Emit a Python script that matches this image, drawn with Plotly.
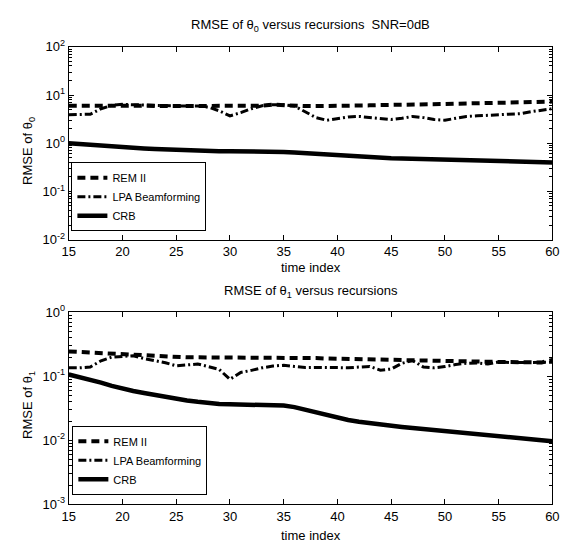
import plotly.graph_objects as go

# recursion index shared by both panels
time_index = list(range(15, 61))

# RMSE of theta_0 (top panel)
rem_theta0 = [6.0, 6.0, 6.0, 6.0, 6.1, 6.2, 6.1, 6.0, 5.9, 5.9, 5.9, 5.8, 5.8, 5.8, 5.8, 5.8,
              5.8, 5.9, 6.0, 6.3, 6.1, 5.9, 5.9, 5.9, 5.9, 6.0, 6.0, 6.1, 6.1, 6.2, 6.2, 6.3,
              6.3, 6.4, 6.5, 6.5, 6.6, 6.7, 6.8, 6.8, 6.9, 7.0, 7.1, 7.2, 7.2, 7.3]
lpa_theta0 = [3.9, 3.9, 4.0, 5.2, 6.1, 6.4, 6.4, 6.2, 6.1, 6.0, 5.8, 5.9, 5.9, 5.6, 4.7, 3.7,
              4.3, 5.2, 6.0, 6.3, 6.3, 5.9, 4.5, 3.4, 3.0, 3.2, 3.5, 3.6, 3.4, 3.2, 3.1, 3.3,
              3.6, 3.4, 3.1, 3.0, 3.3, 3.6, 3.7, 3.8, 3.9, 4.0, 4.1, 4.5, 4.8, 5.2]
crb_theta0 = [1.00, 0.96, 0.92, 0.88, 0.85, 0.82, 0.80, 0.78, 0.76, 0.74, 0.72, 0.71, 0.70,
              0.69, 0.68, 0.68, 0.68, 0.67, 0.67, 0.67, 0.66, 0.64, 0.62, 0.60, 0.58, 0.56,
              0.54, 0.52, 0.51, 0.50, 0.49, 0.485, 0.48, 0.47, 0.465, 0.46, 0.455, 0.45,
              0.44, 0.435, 0.43, 0.425, 0.42, 0.41, 0.405, 0.40]

# RMSE of theta_1 (bottom panel)
rem_theta1 = [0.245, 0.24, 0.235, 0.23, 0.225, 0.222, 0.215, 0.21, 0.205, 0.20, 0.20, 0.198,
              0.198, 0.198, 0.198, 0.198, 0.198, 0.198, 0.198, 0.198, 0.198, 0.198, 0.195,
              0.193, 0.19, 0.189, 0.187, 0.185, 0.183, 0.181, 0.178, 0.177, 0.176, 0.175,
              0.174, 0.174, 0.172, 0.171, 0.170, 0.169, 0.168, 0.167, 0.166, 0.165, 0.165, 0.18]
lpa_theta1 = [0.136, 0.136, 0.140, 0.175, 0.20, 0.205, 0.21, 0.19, 0.175, 0.163, 0.146, 0.152,
              0.156, 0.142, 0.128, 0.09, 0.115, 0.124, 0.136, 0.145, 0.149, 0.143, 0.137,
              0.138, 0.139, 0.137, 0.136, 0.138, 0.143, 0.125, 0.13, 0.16, 0.176, 0.14,
              0.136, 0.142, 0.153, 0.160, 0.162, 0.156, 0.168, 0.164, 0.165, 0.165, 0.165, 0.166]
crb_theta1 = [0.107, 0.098, 0.089, 0.080, 0.071, 0.064, 0.059, 0.055, 0.051, 0.047, 0.0445,
              0.042, 0.040, 0.038, 0.037, 0.0365, 0.0362, 0.036, 0.0358, 0.0355, 0.035, 0.033,
              0.030, 0.027, 0.0245, 0.022, 0.0208, 0.0195, 0.0185, 0.0175, 0.0168, 0.0162,
              0.0156, 0.015, 0.0143, 0.0137, 0.0132, 0.0128, 0.0124, 0.0119, 0.0115, 0.0111,
              0.0107, 0.0103, 0.0100, 0.0097]

series_names = ["REM II", "LPA Beamforming", "CRB"]
x_ticks = [15, 20, 25, 30, 35, 40, 45, 50, 55, 60]
top_exponents = [-2, -1, 0, 1, 2]
bottom_exponents = [-3, -2, -1, 0]

FONT = "Liberation Sans, Arial, Helvetica, sans-serif"
W, H = 574, 553

styles = [
    dict(color="black", width=4, dash="8px,5px"),
    dict(color="black", width=3, dash="8px,3px,2px,3px"),
    dict(color="black", width=4.5),
]

fig = go.Figure()
for name, ys, st in zip(series_names, [rem_theta0, lpa_theta0, crb_theta0], styles):
    fig.add_trace(go.Scatter(x=time_index, y=ys, mode="lines", name=name, line=st,
                             xaxis="x", yaxis="y", legend="legend"))
for name, ys, st in zip(series_names, [rem_theta1, lpa_theta1, crb_theta1], styles):
    fig.add_trace(go.Scatter(x=time_index, y=ys, mode="lines", name=name, line=st,
                             xaxis="x2", yaxis="y2", legend="legend2"))


def px_x(p):
    return p / W


def px_y(p):
    return 1 - p / H


def log_ticks(exps):
    return [10.0 ** e for e in exps], ["10<sup>%d</sup>" % e for e in exps]


def log_minor(exps):
    return [m * 10.0 ** e for e in exps[:-1] for m in range(2, 10)]


axis_common = dict(showline=True, linecolor="black", linewidth=1, mirror="ticks",
                   ticks="inside", ticklen=5, tickcolor="black", showgrid=False,
                   zeroline=False, tickfont=dict(family=FONT, size=13, color="black"))

tv0, tt0 = log_ticks(top_exponents)
tv1, tt1 = log_ticks(bottom_exponents)

x_dom = [px_x(63.3), px_x(559)]
legend_style = dict(xanchor="left", yanchor="top", bgcolor="white", bordercolor="black",
                    borderwidth=1, font=dict(family=FONT, size=11, color="black"),
                    tracegroupgap=0, itemwidth=30)
fig.update_layout(
    width=W, height=H, margin=dict(l=0, r=0, t=0, b=0),
    paper_bgcolor="white", plot_bgcolor="white",
    font=dict(family=FONT, size=12, color="black"),
    xaxis=dict(domain=x_dom, anchor="y", range=[15, 60], tickvals=x_ticks, **axis_common),
    yaxis=dict(domain=[px_y(238), px_y(39)], anchor="x", type="log", range=[-2, 2],
               tickvals=tv0, ticktext=tt0,
               minor=dict(tickvals=log_minor(top_exponents), ticks="inside", ticklen=3,
                          tickcolor="black", showgrid=False),
               **axis_common),
    xaxis2=dict(domain=x_dom, anchor="y2", range=[15, 60], tickvals=x_ticks, **axis_common),
    yaxis2=dict(domain=[px_y(511), px_y(313)], anchor="x2", type="log", range=[-3, 0],
                tickvals=tv1, ticktext=tt1,
                minor=dict(tickvals=log_minor(bottom_exponents), ticks="inside", ticklen=3,
                           tickcolor="black", showgrid=False),
                **axis_common),
    legend=dict(x=px_x(66), y=px_y(158), **legend_style),
    legend2=dict(x=px_x(67), y=px_y(430), **legend_style),
    showlegend=True,
)

x_mid = px_x((63.3 + 559) / 2)
ann = [
    dict(text="RMSE of θ<sub>0</sub> versus recursions\u00a0\u00a0SNR=0dB", x=x_mid, y=px_y(17)),
    dict(text="time index", x=x_mid, y=px_y(267)),
    dict(text="RMSE of θ<sub>1</sub> versus recursions", x=x_mid, y=px_y(291)),
    dict(text="time index", x=x_mid, y=px_y(543)),
    dict(text="RMSE of θ<sub>0</sub>", x=px_x(22), y=px_y(146), textangle=-90),
    dict(text="RMSE of θ<sub>1</sub>", x=px_x(22), y=px_y(408), textangle=-90),
]
for a in ann:
    fig.add_annotation(xref="paper", yref="paper", showarrow=False,
                       xanchor="center", yanchor="middle",
                       font=dict(family=FONT, size=13, color="black"), **a)

fig.write_html("out.html")
